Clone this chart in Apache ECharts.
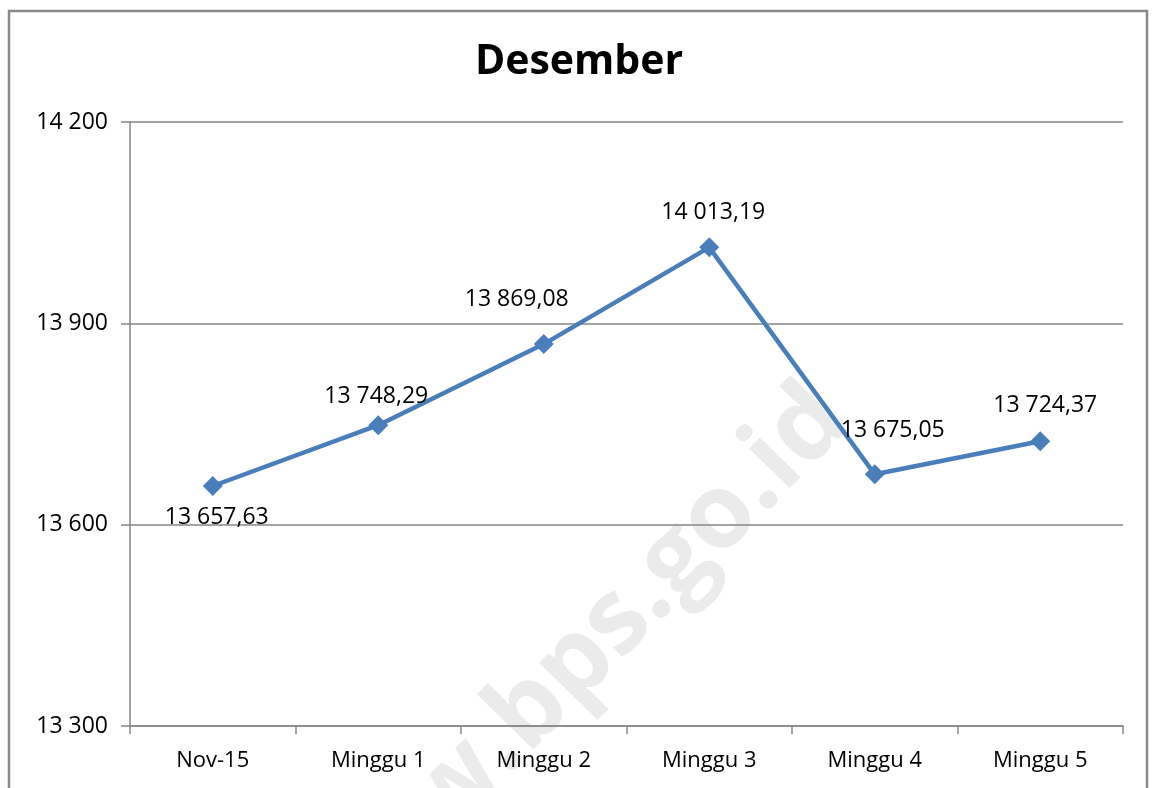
<!DOCTYPE html>
<html>
<head>
<meta charset="utf-8">
<script src="https://cdn.jsdelivr.net/npm/echarts@6/dist/echarts.min.js"></script>
<style>
html,body{margin:0;padding:0;background:#fff;}
#c{width:1158px;height:788px;}
</style>
</head>
<body>
<div id="c"></div>
<script>
var categories = ["Nov-15", "Minggu 1", "Minggu 2", "Minggu 3", "Minggu 4", "Minggu 5"];
var values = [13657.63, 13748.29, 13869.08, 14013.19, 13675.05, 13724.37];
var yTicks = [13300, 13600, 13900, 14200];
var titleText = "Desember";

function fmtInt(v) {
  return String(Math.round(v)).replace(/\B(?=(\d{3})+(?!\d))/g, " ");
}
function fmtDec(v) {
  var s = v.toFixed(2).split(".");
  return s[0].replace(/\B(?=(\d{3})+(?!\d))/g, " ") + "," + s[1];
}

var FONT = "'Open Sans', 'Noto Sans', sans-serif";
// label centre offsets relative to the point (as placed in the original chart)
var labelOff = [[4, 31], [-2, -29], [-27, -45], [4, -35], [18, -44], [5, -36]];

var seriesData = values.map(function (v, i) {
  return {
    value: v,
    label: { position: 'inside', offset: labelOff[i] }
  };
});

var chart = echarts.init(document.getElementById('c'));
chart.setOption({
  animation: false,
  backgroundColor: '#fff',
  title: {
    text: titleText,
    left: 'center',
    top: 37,
    textStyle: { fontFamily: FONT, fontWeight: 'bold', fontSize: 41, color: '#000' }
  },
  graphic: [
    {
      type: 'rect',
      shape: { x: 9, y: 11, width: 1138, height: 820 },
      style: { fill: 'none', stroke: '#8a8a8a', lineWidth: 2.5 },
      silent: true, z: 0
    },
    {
      type: 'text',
      x: 565, y: 675,
      rotation: 0.795,
      style: {
        text: 'www.bps.go.id',
        font: 'bold 104px ' + FONT,
        fill: '#ebebeb',
        align: 'center',
        verticalAlign: 'middle'
      },
      silent: true, z: -1
    }
  ],
  grid: { left: 130, right: 35, top: 122, bottom: 62 },
  xAxis: {
    type: 'category',
    data: categories,
    boundaryGap: true,
    axisLine: { lineStyle: { color: '#868686', width: 1.5 } },
    axisTick: { show: true, length: 8, alignWithLabel: false, lineStyle: { color: '#868686', width: 1.5 } },
    axisLabel: { fontFamily: FONT, fontSize: 22, color: '#000', margin: 24 },
    splitLine: { show: false }
  },
  yAxis: {
    type: 'value',
    min: 13300,
    max: 14200,
    interval: 300,
    axisLine: { show: true, lineStyle: { color: '#868686', width: 1.5 } },
    axisTick: { show: true, length: 9, lineStyle: { color: '#868686', width: 1.5 } },
    axisLabel: {
      fontFamily: FONT, fontSize: 23, color: '#000', margin: 22,
      formatter: function (v) { return fmtInt(v); }
    },
    splitLine: { show: true, lineStyle: { color: '#868686', width: 1.5 } }
  },
  series: [{
    type: 'line',
    data: seriesData,
    symbol: 'diamond',
    symbolSize: 20,
    lineStyle: { color: '#4a7ebb', width: 4.5 },
    itemStyle: { color: '#4a7ebb' },
    label: {
      show: true,
      fontFamily: FONT,
      fontSize: 23,
      color: '#000',
      formatter: function (p) { return fmtDec(p.value); }
    },
    z: 5
  }]
});
</script>
</body>
</html>
